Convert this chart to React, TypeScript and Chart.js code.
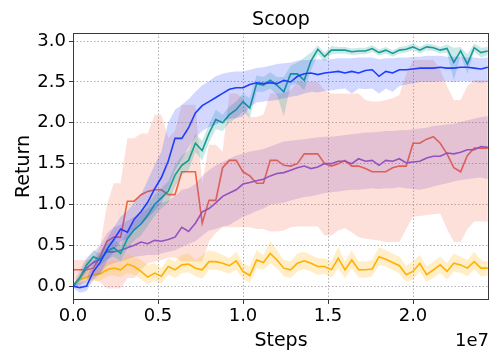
import React, { useEffect, useRef } from "react";
import { Chart, registerables } from "chart.js";

Chart.register(...registerables);

const STEP = 400000;
const steps: number[] = Array.from({ length: 62 }, (_, i) => i * STEP);
const X_MAX = 24470000;
const Y_MIN = -0.17;
const Y_MAX = 3.1;
const xTicks = [0, 5000000, 10000000, 15000000, 20000000];
const yTicks = [0, 0.5, 1.0, 1.5, 2.0, 2.5, 3.0];

const blueMean = [0.0,-0.02,0.0,0.18,0.29,0.45,0.57,0.7,0.66,0.82,0.91,1.03,1.19,1.33,1.53,1.81,1.81,1.94,2.12,2.21,2.26,2.31,2.36,2.41,2.43,2.43,2.47,2.49,2.48,2.49,2.48,2.52,2.50,2.57,2.60,2.61,2.59,2.61,2.62,2.63,2.61,2.63,2.61,2.64,2.65,2.57,2.63,2.61,2.65,2.65,2.66,2.67,2.67,2.67,2.68,2.67,2.67,2.68,2.68,2.67,2.66,2.68];
const blueLo = [-0.02,-0.08,-0.06,0.08,0.15,0.3,0.42,0.55,0.58,0.68,0.75,0.83,0.92,1.02,1.2,1.42,1.55,1.7,1.82,1.9,1.95,1.98,2.02,2.05,2.06,2.08,2.2,2.25,2.26,2.27,2.28,2.3,2.32,2.33,2.36,2.38,2.37,2.39,2.4,2.41,2.42,2.36,2.42,2.41,2.42,2.36,2.42,2.38,2.45,2.47,2.48,2.5,2.5,2.5,2.51,2.51,2.5,2.51,2.51,2.5,2.49,2.5];
const blueHi = [0.02,0.04,0.08,0.3,0.42,0.58,0.72,0.85,0.92,1.02,1.12,1.3,1.48,1.65,2.0,2.16,2.22,2.29,2.38,2.46,2.51,2.57,2.6,2.62,2.63,2.63,2.65,2.67,2.68,2.7,2.72,2.73,2.74,2.76,2.77,2.77,2.78,2.78,2.78,2.79,2.79,2.79,2.8,2.8,2.8,2.78,2.79,2.79,2.8,2.8,2.81,2.81,2.82,2.82,2.82,2.81,2.81,2.81,2.8,2.8,2.79,2.8];

const tealMean = [0.0,0.1,0.26,0.36,0.32,0.43,0.47,0.4,0.58,0.69,0.76,0.87,1.0,1.08,1.16,1.36,1.48,1.54,1.75,1.66,1.87,2.04,2.0,2.1,2.16,2.26,2.18,2.48,2.46,2.52,2.46,2.38,2.6,2.6,2.52,2.76,2.9,2.81,2.89,2.89,2.89,2.87,2.88,2.88,2.91,2.86,2.89,2.85,2.89,2.9,2.93,2.89,2.93,2.92,2.89,2.91,2.74,2.88,2.72,2.92,2.86,2.88];
const tealLo = [-0.02,0.04,0.18,0.28,0.24,0.33,0.36,0.3,0.46,0.56,0.62,0.74,0.86,0.95,1.02,1.22,1.36,1.42,1.64,1.54,1.76,1.92,1.9,2.0,2.06,2.14,2.06,2.38,2.38,2.42,2.34,2.08,2.46,2.48,2.4,2.64,2.84,2.75,2.84,2.85,2.85,2.83,2.84,2.84,2.87,2.82,2.85,2.81,2.85,2.86,2.89,2.85,2.89,2.88,2.85,2.86,2.52,2.82,2.6,2.87,2.8,2.83];
const tealHi = [0.02,0.14,0.32,0.44,0.4,0.52,0.58,0.5,0.68,0.8,0.88,1.0,1.12,1.2,1.28,1.48,1.6,1.66,1.86,1.78,1.98,2.16,2.1,2.2,2.26,2.36,2.3,2.58,2.56,2.62,2.56,2.56,2.7,2.74,2.8,2.86,2.95,2.86,2.94,2.93,2.93,2.91,2.92,2.92,2.95,2.9,2.93,2.89,2.93,2.94,2.97,2.93,2.97,2.96,2.93,2.96,2.92,2.93,2.84,2.97,2.92,2.93];

const orangeMean = [0.2,0.2,0.2,0.22,0.36,0.55,0.6,0.6,1.04,1.04,1.12,1.16,1.18,1.18,1.12,1.12,1.4,1.4,1.4,0.77,1.05,1.05,1.45,1.54,1.54,1.4,1.35,1.26,1.26,1.54,1.54,1.48,1.47,1.5,1.62,1.62,1.62,1.5,1.47,1.5,1.54,1.47,1.47,1.44,1.4,1.4,1.4,1.45,1.47,1.47,1.75,1.75,1.8,1.83,1.75,1.62,1.45,1.4,1.6,1.69,1.69,1.69];
const orangeLo = [0.08,0.08,0.08,0.08,0.05,-0.03,-0.03,-0.03,0.1,0.1,0.2,0.28,0.3,0.32,0.35,0.35,0.3,0.3,0.3,0.3,0.55,0.65,0.72,0.72,0.72,0.72,0.72,0.7,0.7,0.67,0.67,0.68,0.72,0.73,0.73,0.73,0.73,0.62,0.62,0.68,0.71,0.66,0.6,0.58,0.57,0.56,0.54,0.54,0.54,0.7,0.85,0.86,0.87,0.88,0.89,0.7,0.54,0.54,0.7,0.79,0.79,0.79];
const orangeHi = [0.32,0.32,0.32,0.32,0.5,1.0,1.26,1.26,1.81,1.81,1.87,1.87,2.1,2.1,1.81,1.9,2.22,2.22,2.22,1.26,1.73,1.73,1.65,2.36,2.36,2.3,2.07,2.07,2.1,2.36,2.36,2.36,2.4,2.5,2.5,2.5,2.5,2.4,2.36,2.36,2.36,2.36,2.36,2.28,2.26,2.26,2.28,2.3,2.34,2.6,2.77,2.77,2.77,2.77,2.65,2.45,2.28,2.28,2.45,2.52,2.52,2.52];

const purpleMean = [0.0,0.1,0.22,0.29,0.33,0.42,0.42,0.44,0.47,0.5,0.54,0.52,0.56,0.55,0.57,0.6,0.72,0.67,0.77,0.91,0.95,1.02,1.1,1.14,1.18,1.25,1.27,1.29,1.31,1.35,1.38,1.39,1.42,1.45,1.47,1.44,1.46,1.5,1.5,1.53,1.53,1.5,1.56,1.53,1.54,1.48,1.54,1.53,1.56,1.51,1.52,1.53,1.57,1.59,1.59,1.63,1.62,1.64,1.67,1.67,1.71,1.7];
const purpleLo = [-0.02,0.0,0.1,0.12,0.15,0.25,0.28,0.3,0.33,0.36,0.37,0.38,0.38,0.4,0.42,0.44,0.48,0.52,0.55,0.62,0.68,0.7,0.73,0.75,0.8,0.85,0.88,0.92,0.95,1.0,1.01,1.02,1.05,1.07,1.09,1.1,1.12,1.14,1.15,1.16,1.17,1.18,1.18,1.19,1.2,1.19,1.2,1.2,1.21,1.2,1.19,1.18,1.2,1.22,1.24,1.26,1.28,1.3,1.31,1.32,1.33,1.31];
const purpleHi = [0.02,0.2,0.35,0.42,0.5,0.65,0.72,0.75,0.8,0.85,0.9,0.95,1.0,1.02,1.05,1.1,1.18,1.2,1.25,1.35,1.42,1.48,1.52,1.56,1.6,1.62,1.65,1.66,1.68,1.71,1.74,1.77,1.78,1.79,1.8,1.81,1.82,1.83,1.83,1.84,1.85,1.86,1.87,1.88,1.88,1.89,1.9,1.9,1.91,1.91,1.92,1.93,1.94,1.96,1.97,1.98,1.99,2.01,2.03,2.05,2.07,2.08];

const yellowMean = [0.0,0.08,0.11,0.14,0.15,0.2,0.22,0.2,0.27,0.24,0.18,0.11,0.16,0.12,0.24,0.2,0.26,0.27,0.22,0.2,0.3,0.3,0.28,0.25,0.31,0.18,0.13,0.32,0.29,0.4,0.32,0.22,0.2,0.28,0.31,0.28,0.24,0.24,0.2,0.34,0.2,0.32,0.2,0.2,0.21,0.36,0.33,0.29,0.25,0.14,0.18,0.28,0.14,0.2,0.26,0.18,0.28,0.26,0.22,0.3,0.22,0.22];
const yellowLo = [-0.03,0.02,0.04,0.06,0.07,0.12,0.13,0.11,0.16,0.14,0.08,0.02,0.07,0.03,0.14,0.1,0.16,0.17,0.12,0.09,0.2,0.2,0.18,0.15,0.2,0.09,0.04,0.22,0.2,0.28,0.22,0.12,0.1,0.18,0.21,0.18,0.14,0.15,0.1,0.22,0.1,0.22,0.11,0.1,0.12,0.26,0.24,0.2,0.15,0.05,0.08,0.18,0.05,0.1,0.16,0.08,0.18,0.16,0.12,0.2,0.12,0.13];
const yellowHi = [0.03,0.14,0.18,0.22,0.24,0.3,0.32,0.3,0.4,0.36,0.32,0.26,0.28,0.22,0.34,0.3,0.38,0.4,0.32,0.38,0.44,0.42,0.38,0.34,0.42,0.28,0.24,0.44,0.38,0.55,0.44,0.32,0.3,0.4,0.42,0.38,0.34,0.34,0.3,0.48,0.3,0.44,0.3,0.3,0.32,0.48,0.44,0.4,0.36,0.25,0.3,0.38,0.24,0.3,0.36,0.28,0.4,0.36,0.32,0.42,0.32,0.3];

const series = [
  { name: "orange", color: "#ef6440", fill: "rgba(239,100,64,0.2)", mean: orangeMean, lo: orangeLo, hi: orangeHi },
  { name: "purple", color: "#9352bf", fill: "rgba(147,82,191,0.22)", mean: purpleMean, lo: purpleLo, hi: purpleHi },
  { name: "yellow", color: "#ffb000", fill: "rgba(255,176,0,0.22)", mean: yellowMean, lo: yellowLo, hi: yellowHi },
  { name: "teal", color: "#179c96", fill: "rgba(23,156,150,0.22)", mean: tealMean, lo: tealLo, hi: tealHi },
  { name: "blue", color: "#1e3cff", fill: "rgba(30,60,255,0.2)", mean: blueMean, lo: blueLo, hi: blueHi },
];

const FONT = "'DejaVu Sans', sans-serif";

const decor = {
  id: "decor",
  afterDatasetsDraw(chart: any) {
    const { ctx, chartArea: a } = chart;
    ctx.save();
    ctx.strokeStyle = "#3a3a3a";
    ctx.lineWidth = 1;
    ctx.strokeRect(a.left + 0.5, a.top + 0.5, a.right - a.left - 1, a.bottom - a.top - 1);
    ctx.restore();
  },
  afterDraw(chart: any) {
    const { ctx, chartArea: a } = chart;
    const cx = (a.left + a.right) / 2;
    ctx.save();
    ctx.fillStyle = "#000";
    ctx.font = `19px ${FONT}`;
    ctx.textAlign = "center";
    ctx.textBaseline = "alphabetic";
    ctx.fillText("Scoop", cx, 25);
    ctx.fillText("Steps", cx, 346);
    ctx.font = `18px ${FONT}`;
    ctx.textAlign = "right";
    ctx.fillText("1e7", a.right, 346);
    ctx.font = `19px ${FONT}`;
    ctx.translate(29, (a.top + a.bottom) / 2);
    ctx.rotate(-Math.PI / 2);
    ctx.textAlign = "center";
    ctx.fillText("Return", 0, 0);
    ctx.restore();
  },
};

export default function App() {
  const ref = useRef<HTMLCanvasElement | null>(null);
  useEffect(() => {
    document.body.style.margin = "0";
    const datasets: any[] = [];
    series.forEach((s) => {
      datasets.push({
        label: s.name + " lo",
        data: steps.map((x, i) => ({ x, y: s.lo[i] })),
        borderWidth: 0,
        pointRadius: 0,
        fill: false,
        borderColor: "rgba(0,0,0,0)",
      });
      datasets.push({
        label: s.name + " hi",
        data: steps.map((x, i) => ({ x, y: s.hi[i] })),
        borderWidth: 0,
        pointRadius: 0,
        fill: "-1",
        backgroundColor: s.fill,
        borderColor: "rgba(0,0,0,0)",
      });
      datasets.push({
        label: s.name,
        data: steps.map((x, i) => ({ x, y: s.mean[i] })),
        borderWidth: 1.6,
        pointRadius: 0,
        fill: false,
        borderColor: s.color,
        tension: 0,
      });
    });
    const n = datasets.length;
    datasets.forEach((d, i) => (d.order = n - i));

    const chart = new Chart(ref.current as HTMLCanvasElement, {
      type: "line",
      data: { datasets },
      plugins: [decor],
      options: {
        animation: false,
        responsive: false,
        devicePixelRatio: 1,
        layout: { padding: { top: 33, right: 11, left: 0, bottom: 0 } },
        plugins: { legend: { display: false }, title: { display: false }, tooltip: { enabled: false } },
        scales: {
          x: {
            type: "linear",
            min: 0,
            max: X_MAX,
            afterFit: (s: any) => { s.height = 62; },
            afterBuildTicks: (s: any) => { s.ticks = xTicks.map((v) => ({ value: v })); },
            ticks: {
              callback: (v: any) => (Number(v) / 1e7).toFixed(1),
              color: "#000",
              font: { family: FONT, size: 18 },
              padding: 2,
              maxRotation: 0,
              autoSkip: false,
            },
            grid: { color: "#b0b0b0", lineWidth: 1, tickColor: "#3a3a3a", tickLength: 4, tickWidth: 1, tickBorderDash: [] },
            border: { display: false, dash: [1.5, 2] },
          },
          y: {
            type: "linear",
            min: Y_MIN,
            max: Y_MAX,
            afterFit: (s: any) => { s.width = 73; },
            afterBuildTicks: (s: any) => { s.ticks = yTicks.map((v) => ({ value: v })); },
            ticks: {
              callback: (v: any) => Number(v).toFixed(1),
              color: "#000",
              font: { family: FONT, size: 18 },
              padding: 3,
              autoSkip: false,
            },
            grid: { color: "#b0b0b0", lineWidth: 1, tickColor: "#3a3a3a", tickLength: 4, tickWidth: 1, tickBorderDash: [] },
            border: { display: false, dash: [1.5, 2] },
          },
        },
      },
    });
    return () => chart.destroy();
  }, []);
  return (
    <div style={{ width: 500, height: 362 }}>
      <canvas ref={ref} width={500} height={362} style={{ display: "block" }} />
    </div>
  );
}
